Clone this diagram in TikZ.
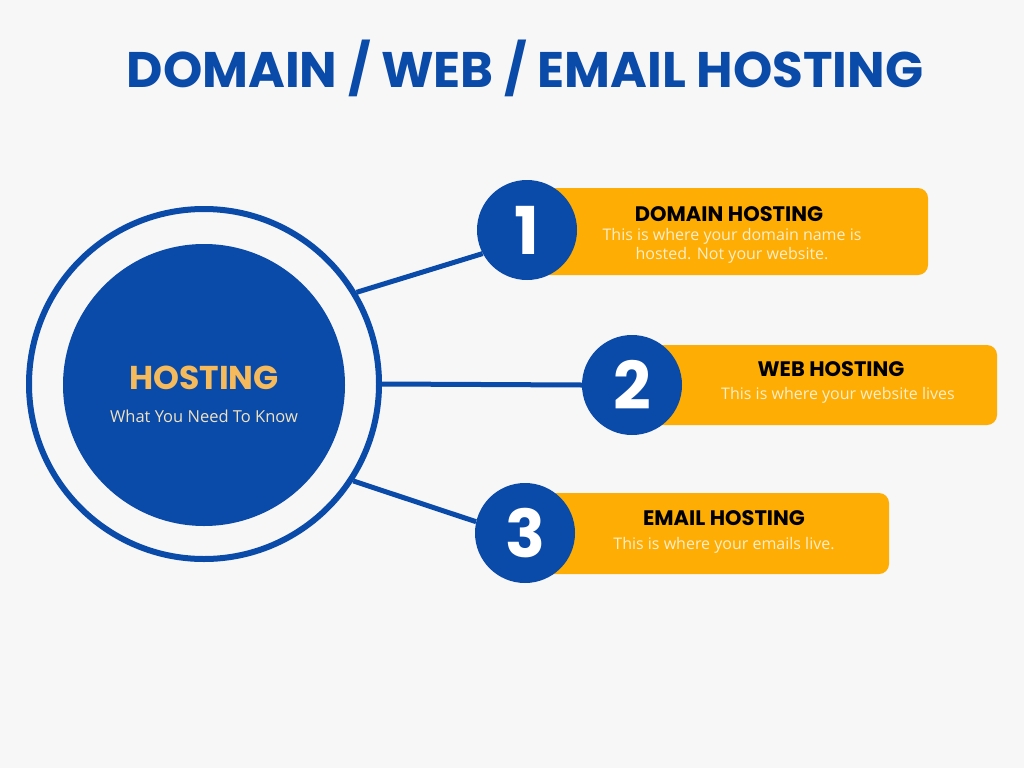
\documentclass[tikz,border=0pt]{standalone}
\usepackage{fontspec}
\setmainfont{Open Sans}
\newfontfamily\headfont{Poppins}
\usepackage{xcolor}
\definecolor{hostblue}{RGB}{10, 74, 168}
\definecolor{hostamber}{RGB}{253, 173, 3}
\definecolor{hostgold}{RGB}{245, 186, 92}
\definecolor{hostcream}{RGB}{240, 226, 192}
\definecolor{barcream}{RGB}{255, 238, 204}
\definecolor{pagegray}{RGB}{247, 247, 247}
\usetikzlibrary{positioning}

\begin{document}
\begin{tikzpicture}[x=1pt, y=-1pt,
    numdisc/.style={circle, fill=hostblue, minimum size=100pt, inner sep=0pt, text=white, font=\headfont\bfseries\fontsize{66}{66}\selectfont},
    infobar/.style={fill=hostamber, rounded corners=10pt, inner sep=0pt},
    bartitle/.style={font=\headfont\bfseries\fontsize{21}{21}\selectfont, text=black},
    bartext/.style={font=\fontsize{16}{19.5}\selectfont, text=barcream, align=center},
    link/.style={hostblue, line width=5pt}]
    \fill[pagegray] (0, 0) rectangle (1024, 768);
    \useasboundingbox (0, 0) rectangle (1024, 768);

    \node[font=\headfont\bfseries\fontsize{50}{50}\selectfont, text=hostblue] (title) at (525, 68) {DOMAIN / WEB / EMAIL HOSTING};

    % hub
    \node[circle, draw=hostblue, line width=6pt, minimum size=350pt, inner sep=0pt] (ring) at (204, 384) {};
    \node[circle, fill=hostblue, minimum size=282pt, inner sep=0pt] (hub) at (204, 385) {};
    \node[font=\headfont\bfseries\fontsize{33}{33}\selectfont, text=hostgold] (hubtitle) at (204, 378) {HOSTING};
    \node[font=\fontsize{16.5}{17}\selectfont, text=hostcream] (hubtext) at (204, 416) {What You Need To Know};

    % bars behind the numbers
    \node[infobar, minimum width=401pt, minimum height=87pt] (bar1) at (727.5, 231.5) {};
    \node[infobar, minimum width=365pt, minimum height=80pt] (bar2) at (814.5, 385) {};
    \node[infobar, minimum width=364pt, minimum height=81pt] (bar3) at (707, 533.5) {};

    \node[numdisc] (num1) at (527, 230) {1};
    \node[numdisc] (num2) at (632, 385) {2};
    \node[numdisc] (num3) at (525, 533) {3};

    \draw[link] (ring.31) -- (num1.208);
    \draw[link] (ring.east) -- (num2.west);
    \draw[link] (ring.-33) -- (num3.167);

    \node[bartitle] (head1) at (729, 214) {DOMAIN HOSTING};
    \node[bartext] (text1) at (732, 246) {This is where your domain name is\\hosted. Not your website.};
    \node[bartitle] (head2) at (831, 369) {WEB HOSTING};
    \node[bartext] (text2) at (838, 395) {This is where your website lives};
    \node[bartitle] (head3) at (724, 518) {EMAIL HOSTING};
    \node[bartext] (text3) at (724, 545) {This is where your emails live.};
\end{tikzpicture}
\end{document}
